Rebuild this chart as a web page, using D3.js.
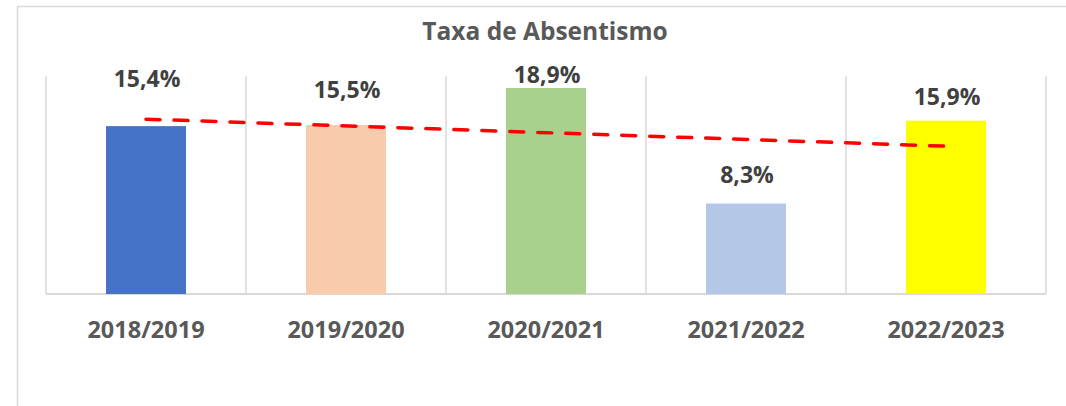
<!DOCTYPE html>
<html>
  <head>
    <meta charset="utf-8">
    <title>Taxa de Absentismo</title>
    <script src="https://cdn.jsdelivr.net/npm/d3@7"></script>
    <style type="text/css">
      body { margin: 0; background: #fff; }
      text { font-family: "Open Sans", sans-serif; font-weight: bold; }
    </style>
  </head>
  <body>
    <script>
      // data
      var categories = ["2018/2019", "2019/2020", "2020/2021", "2021/2022", "2022/2023"];
      var values = [15.4, 15.5, 18.9, 8.3, 15.9];
      var labels = ["15,4%", "15,5%", "18,9%", "8,3%", "15,9%"];
      var barColors = ["#4472C4", "#F8CBAD", "#A9D18E", "#B4C7E7", "#FFFF00"];
      // labels were dragged by hand in the original, lift above bar top (px)
      var labelLift = [47, 35, 13, 29, 24];

      var w = 1066, h = 406;
      // plot area (note: "top" is taken by window.top)
      var plotLeft = 46, plotRight = 1046, plotTop = 76, plotBottom = 294;

      var svg = d3.select("body").append("svg")
          .attr("width", w)
          .attr("height", h);

      // chart frame (only top and left edges are visible in the shot)
      svg.append("rect")
          .attr("x", 17.5).attr("y", 6.5)
          .attr("width", 1100).attr("height", 500)
          .attr("fill", "#fff")
          .attr("stroke", "#d9d9d9")
          .attr("stroke-width", 1.5);

      var x = d3.scaleBand()
          .domain(categories)
          .range([plotLeft, plotRight])
          .paddingInner(0.6)
          .paddingOuter(0.3);

      var y = d3.scaleLinear()
          .domain([0, 20])
          .range([plotBottom, plotTop]);

      // vertical gridlines between categories
      var step = x.step();
      var gridX = d3.range(categories.length + 1).map(function(i) { return plotLeft + i * step; });
      svg.append("g").selectAll("line")
          .data(gridX)
          .enter().append("line")
          .attr("x1", function(d) { return d; })
          .attr("x2", function(d) { return d; })
          .attr("y1", y(20))
          .attr("y2", y(0))
          .attr("stroke", "#d9d9d9")
          .attr("stroke-width", 1.5);

      // baseline
      svg.append("line")
          .attr("x1", plotLeft).attr("x2", plotRight)
          .attr("y1", y(0)).attr("y2", y(0))
          .attr("stroke", "#d9d9d9")
          .attr("stroke-width", 2);

      // bars
      svg.append("g").selectAll("rect")
          .data(values)
          .enter().append("rect")
          .attr("x", function(d, i) { return x(categories[i]); })
          .attr("y", function(d) { return y(d); })
          .attr("width", x.bandwidth())
          .attr("height", function(d) { return y(0) - y(d); })
          .attr("fill", function(d, i) { return barColors[i]; });

      // linear trendline (least squares over the five values)
      var n = values.length;
      var mx = d3.mean(d3.range(n)), my = d3.mean(values);
      var slope = d3.sum(values, function(v, i) { return (i - mx) * (v - my); }) /
                  d3.sum(d3.range(n), function(i) { return (i - mx) * (i - mx); });
      var trend = [0, n - 1].map(function(i) { return [i, my + slope * (i - mx)]; });
      var cx = function(i) { return x(categories[i]) + x.bandwidth() / 2; };

      svg.append("path")
          .datum(trend)
          .attr("d", d3.line()
              .x(function(d) { return cx(d[0]); })
              .y(function(d) { return y(d[1]); }))
          .attr("fill", "none")
          .attr("stroke", "#FF0000")
          .attr("stroke-width", 3.5)
          .attr("stroke-linecap", "round")
          .attr("stroke-dasharray", "14 14");

      // data labels
      svg.append("g").selectAll("text")
          .data(values)
          .enter().append("text")
          .attr("x", function(d, i) { return cx(i) + 1; })
          .attr("y", function(d, i) { return y(d) - labelLift[i]; })
          .attr("dy", "0.35em")
          .attr("text-anchor", "middle")
          .style("font-size", "23px")
          .style("fill", "#404040")
          .text(function(d, i) { return labels[i]; });

      // category axis
      var xAxis = svg.append("g")
          .attr("transform", "translate(0," + y(0) + ")")
          .call(d3.axisBottom(x).tickSize(0).tickPadding(0));
      xAxis.select(".domain").remove();
      xAxis.selectAll("text")
          .attr("y", 36)
          .attr("dy", "0.35em")
          .style("font-family", "'Open Sans', sans-serif")
          .style("font-weight", "bold")
          .style("font-size", "23.5px")
          .style("fill", "#595959");

      // title
      svg.append("text")
          .attr("x", 545)
          .attr("y", 31)
          .attr("dy", "0.35em")
          .attr("text-anchor", "middle")
          .style("font-size", "24.5px")
          .style("fill", "#595959")
          .text("Taxa de Absentismo");
    </script>
  </body>
</html>
